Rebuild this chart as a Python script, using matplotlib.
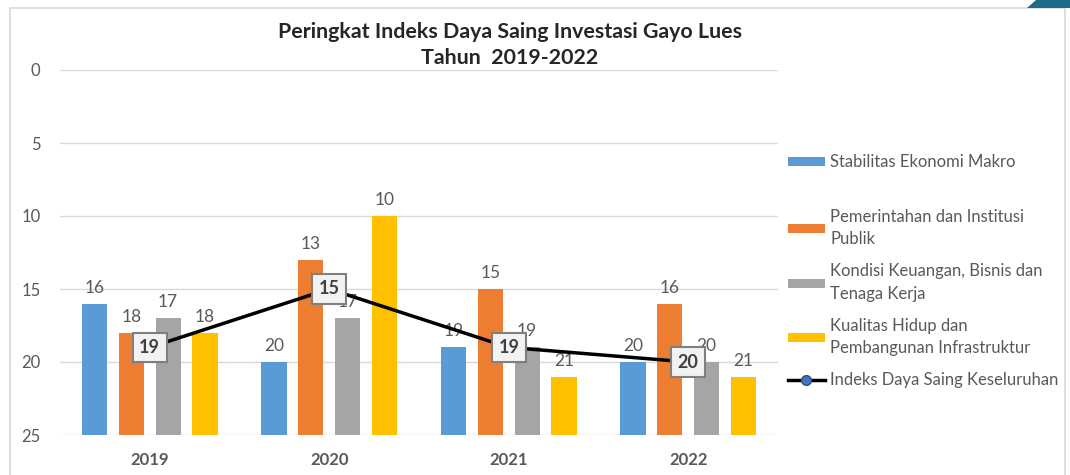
import matplotlib.pyplot as plt
import matplotlib.patches as mpatches
import numpy as np

plt.rcParams['font.family'] = ['Lato', 'DejaVu Sans']

years = ['2019', '2020', '2021', '2022']
ekonomi = [16, 20, 19, 20]
pemerintahan = [18, 13, 15, 16]
keuangan = [17, 17, 19, 20]
kualitas = [18, 10, 21, 21]
keseluruhan = [19, 15, 19, 20]

series = [
    ('Stabilitas Ekonomi Makro', ekonomi, '#5b9bd5'),
    ('Pemerintahan dan Institusi\nPublik', pemerintahan, '#ed7d31'),
    ('Kondisi Keuangan, Bisnis dan\nTenaga Kerja', keuangan, '#a5a5a5'),
    ('Kualitas Hidup dan\nPembangunan Infrastruktur', kualitas, '#ffc000'),
]
ymax = 25
txtcol = '#595959'

fig = plt.figure(figsize=(10.7, 4.75), dpi=100)
# frame of the chart + corner decoration
fig.patches.append(mpatches.Rectangle((10/1070, -0.01), 1055/1070, 1 - 8/475 + 0.01,
                                      transform=fig.transFigure, fill=False,
                                      ec='#d9d9d9', lw=1.2))
fig.patches.append(mpatches.Polygon([(1036/1070, 1), (1070/1070, 1), (1070/1070, 1 - 8/475), (1027/1070, 1 - 8/475)],
                                    closed=True, transform=fig.transFigure,
                                    fc='#1d6a85', ec='none'))

ax = fig.add_axes([60/1070, 1 - 435/475, 718/1070, 365/475])
x = np.arange(len(years))
w = 0.14
step = 0.205
bars = []
for i, (name, vals, col) in enumerate(series):
    xs = x + (i - 1.5) * step
    v = np.array(vals)
    b = ax.bar(xs, ymax - v, bottom=v, width=w, color=col, label=name, zorder=2)
    bars.append(b)
    for xi, vi in zip(xs, v):
        ax.text(xi, vi - 0.55, str(vi), ha='center', va='bottom',
                fontsize=12.5, color=txtcol, zorder=3)

ln, = ax.plot(x, keseluruhan, color='black', lw=2.5, marker='o', markersize=7,
              markerfacecolor='#4472c4', markeredgecolor='#2f4f80',
              label='Indeks Daya Saing Keseluruhan', zorder=4)
for xi, vi in zip(x, keseluruhan):
    ax.text(xi, vi, str(vi), ha='center', va='center', fontsize=13,
            fontweight='bold', color='#404040', zorder=5,
            bbox=dict(boxstyle='square,pad=0.35', fc='#f2f2f2', ec='#7f7f7f', lw=1.5))

ax.set_xlim(-0.5, 3.5)
ax.set_ylim(ymax, 0)
ax.set_yticks(np.arange(0, 26, 5))
ax.set_xticks(x)
ax.set_xticklabels(years, fontweight='bold')
ax.tick_params(axis='both', length=0, colors=txtcol, labelsize=12)
ax.tick_params(axis='y', pad=14)
ax.tick_params(axis='x', pad=12)
ax.grid(axis='y', color='#d9d9d9', lw=1, zorder=0)
for s in ax.spines.values():
    s.set_visible(False)

fig.text(510/1070, 1 - 45/475, 'Peringkat Indeks Daya Saing Investasi Gayo Lues\nTahun  2019-2022',
         ha='center', va='center', fontsize=15.4, fontweight='bold', color='#262626',
         linespacing=1.35)

legkw = dict(bbox_transform=fig.transFigure, frameon=False, fontsize=12,
             labelcolor=txtcol, handlelength=2.2, handleheight=0.45,
             handletextpad=0.35, borderaxespad=0, borderpad=0)
leg1 = ax.legend([bars[0]], [series[0][0]], loc='center left',
                 bbox_to_anchor=(788/1070, 1 - 162/475), **legkw)
ax.add_artist(leg1)
leg2 = ax.legend(bars[1:] + [ln], [s[0] for s in series[1:]] + [ln.get_label()],
                 loc='upper left', bbox_to_anchor=(788/1070, 1 - 209/475),
                 labelspacing=0.95, **legkw)
for t in leg2.get_texts():
    t.set_linespacing(1.5)

fig.savefig('out.png', dpi=100, facecolor='white')
